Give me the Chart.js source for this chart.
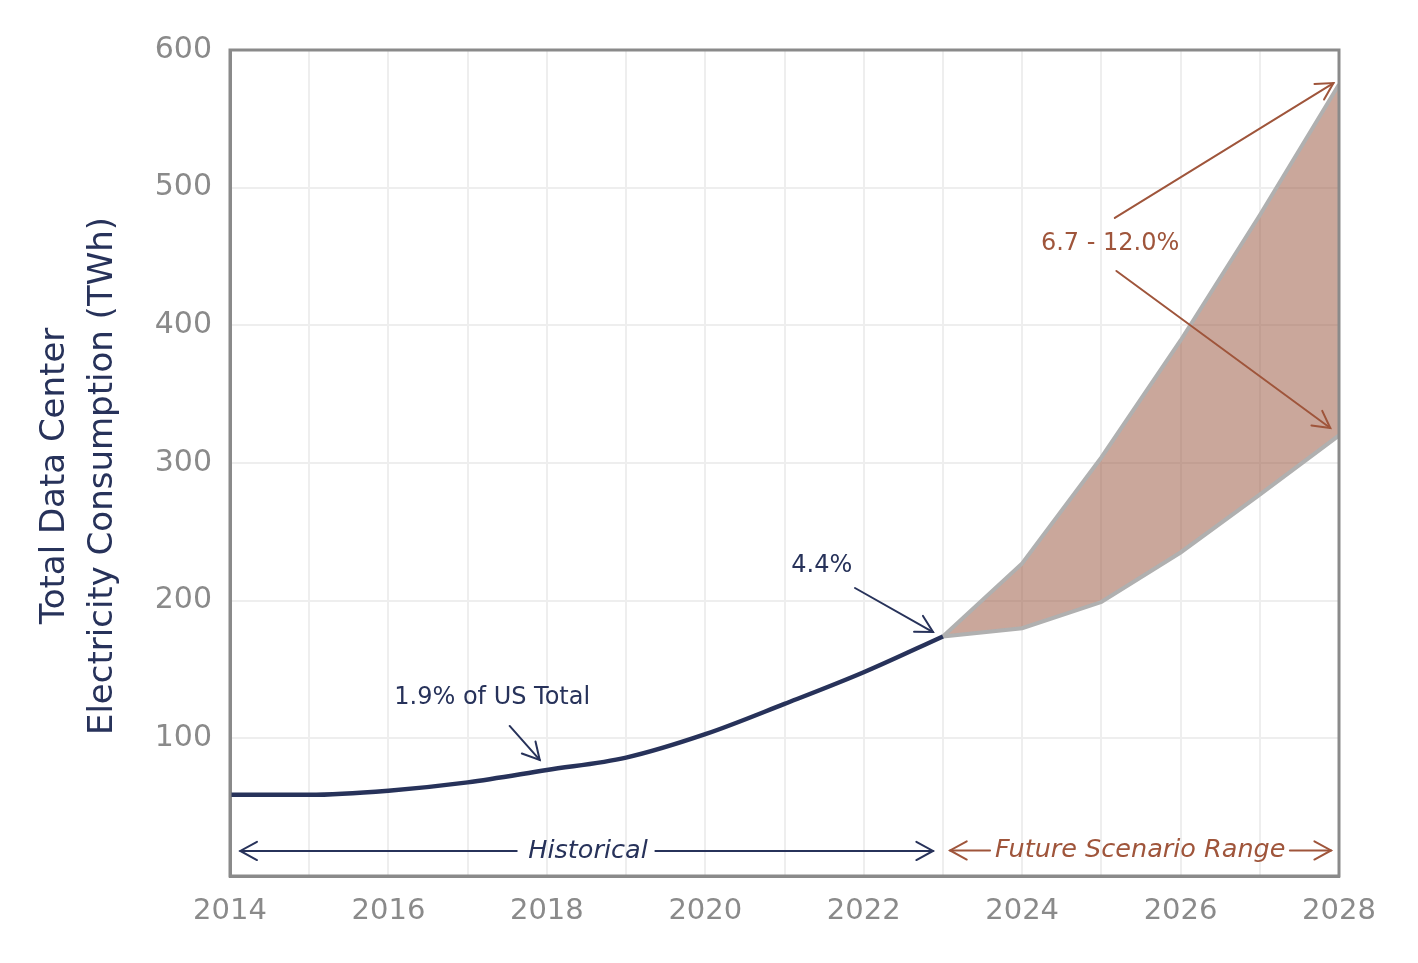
<!DOCTYPE html>
<html>
<head>
<meta charset="utf-8">
<script src="https://cdn.jsdelivr.net/npm/chart.js@4.4.1/dist/chart.umd.min.js"></script>
<style>
html,body{margin:0;padding:0;background:#fff;}
#wrap{width:1418px;height:963px;}
</style>
</head>
<body>
<div id="wrap"><canvas id="c" width="1418" height="963"></canvas></div>
<script>
// ---- data ----
const histYears = [2014,2015,2016,2017,2018,2019,2020,2021,2022,2023];
const histValues = [59,59,62,68,77,86,103,125,148,174];
const futureYears = [2023,2024,2025,2026,2027,2028];
const futureLow = [174,180,199,235,277,320];
const futureHigh = [174,227,304,389,480,575];
const yTickValues = [100,200,300,400,500,600];
const xTickLabels = ['2014','2016','2018','2020','2022','2024','2026','2028'];
const yTitleLines = ['Total Data Center','Electricity Consumption (TWh)'];

const NAVY = '#27325a';
const BROWN = '#9f553b';
const GRAY = '#8a8a8a';
const FONT = "'DejaVu Sans', sans-serif";

const annotations = {
  texts: [
    {text:'1.9% of US Total', x:2017.31, y:129.3, color:NAVY, italic:false, size:24},
    {text:'4.4%', x:2021.47, y:225.2, color:NAVY, italic:false, size:24},
    {text:'6.7 - 12.0%', x:2025.11, y:459, color:BROWN, italic:false, size:24},
    {text:'Historical', x:2018.52, y:18.2, color:NAVY, italic:true, size:25.5},
    {text:'Future Scenario Range', x:2025.49, y:18.6, color:BROWN, italic:true, size:25.5}
  ],
  arrows: [
    {from:[2017.53,109], to:[2017.91,84.3], color:NAVY, w:2},
    {from:[2021.89,209.2], to:[2022.875,177.2], color:NAVY, w:2},
    {from:[2025.17,478], to:[2027.93,576], color:BROWN, w:2},
    {from:[2025.19,439.5], to:[2027.89,325.4], color:BROWN, w:2},
    {from:[2017.62,18.2], to:[2014.13,18.2], color:NAVY, w:2},
    {from:[2019.37,18.2], to:[2022.875,18.2], color:NAVY, w:2},
    {from:[2023.595,18.6], to:[2023.09,18.6], color:BROWN, w:2},
    {from:[2027.38,18.6], to:[2027.90,18.6], color:BROWN, w:2}
  ]
};

const annotPlugin = {
  id:'annot',
  afterDatasetsDraw(chart){
    const {ctx, chartArea:a, scales:{x,y}} = chart;
    ctx.save();
    // full frame
    ctx.strokeStyle = GRAY; ctx.lineWidth = 3;
    ctx.strokeRect(a.left, a.top, a.right-a.left, a.bottom-a.top);
    // arrows
    annotations.arrows.forEach(ar=>{
      const x1=x.getPixelForValue(ar.from[0]), y1=y.getPixelForValue(ar.from[1]);
      const x2=x.getPixelForValue(ar.to[0]), y2=y.getPixelForValue(ar.to[1]);
      ctx.strokeStyle=ar.color; ctx.lineWidth=ar.w; ctx.lineCap='round';
      ctx.beginPath(); ctx.moveTo(x1,y1); ctx.lineTo(x2,y2); ctx.stroke();
      const ang=Math.atan2(y2-y1,x2-x1), L=19, sp=0.5;
      ctx.beginPath();
      ctx.moveTo(x2-L*Math.cos(ang-sp), y2-L*Math.sin(ang-sp));
      ctx.lineTo(x2,y2);
      ctx.lineTo(x2-L*Math.cos(ang+sp), y2-L*Math.sin(ang+sp));
      ctx.stroke();
    });
    // texts
    ctx.textAlign='center'; ctx.textBaseline='middle';
    annotations.texts.forEach(t=>{
      ctx.fillStyle=t.color;
      ctx.font=(t.italic?'italic ':'')+t.size+'px '+FONT;
      ctx.fillText(t.text, x.getPixelForValue(t.x), y.getPixelForValue(t.y));
    });
    // y title
    ctx.fillStyle=NAVY;
    ctx.font='34px '+FONT;
    const xs=[55,103];
    yTitleLines.forEach((s,i)=>{
      ctx.save(); ctx.translate(xs[i], 476); ctx.rotate(-Math.PI/2);
      ctx.fillText(s,0,0); ctx.restore();
    });
    ctx.restore();
  }
};

const histData = histYears.map((yr,i)=>({x:yr,y:histValues[i]}));
const lowData = futureYears.map((yr,i)=>({x:yr,y:futureLow[i]}));
const highData = futureYears.map((yr,i)=>({x:yr,y:futureHigh[i]}));

new Chart(document.getElementById('c'),{
  type:'line',
  data:{datasets:[
    {data:lowData, borderColor:'#b0b0b0', borderWidth:4, pointRadius:0, fill:false, order:2},
    {data:highData, borderColor:'#b0b0b0', borderWidth:4, pointRadius:0, fill:'-1', backgroundColor:'rgba(150,80,55,0.5)', order:2},
    {data:histData, borderColor:NAVY, borderWidth:4.5, pointRadius:0, fill:false, order:1, cubicInterpolationMode:'monotone'}
  ]},
  options:{
    responsive:false, animation:false,
    layout:{padding:{top:50,right:79,left:0,bottom:0}},
    plugins:{legend:{display:false},tooltip:{enabled:false}},
    scales:{
      x:{type:'linear', min:2014, max:2028,
        afterFit(s){s.height=87;},
        grid:{color:'#eeeeee', lineWidth:2, drawTicks:false},
        border:{color:GRAY,width:3},
        ticks:{stepSize:1, padding:18, color:GRAY, font:{family:FONT,size:29}, autoSkip:false, maxRotation:0,
          callback:(v)=> xTickLabels.includes(String(v)) ? String(v) : ''}
      },
      y:{min:0, max:600,
        afterFit(s){s.width=230;},
        grid:{color:'#eeeeee', lineWidth:2, drawTicks:false},
        border:{color:GRAY,width:3},
        ticks:{stepSize:100, padding:18, color:GRAY, font:{family:FONT,size:30},
          callback:(v)=> yTickValues.includes(v) ? String(v) : ''}
      }
    }
  },
  plugins:[annotPlugin]
});
</script>
</body>
</html>
